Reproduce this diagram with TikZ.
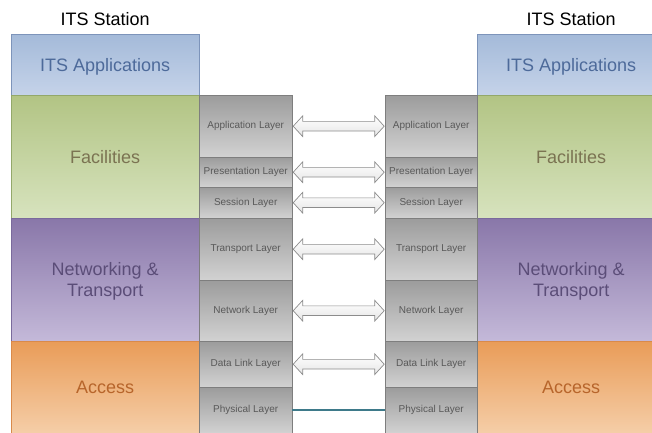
\documentclass[tikz,border=0pt]{standalone}
\usepackage{fontspec}
\setmainfont{Liberation Sans}
\usetikzlibrary{positioning,shapes.arrows}
\definecolor{appsTop}{HTML}{A4BAD9}\definecolor{appsBot}{HTML}{C5D3E9}
\definecolor{appsLine}{HTML}{7D94BA}\definecolor{appsText}{HTML}{4D6A9A}
\definecolor{facTop}{HTML}{B2C484}\definecolor{facBot}{HTML}{D7E3BE}
\definecolor{facLine}{HTML}{93A86A}\definecolor{facText}{HTML}{7B7352}
\definecolor{ntTop}{HTML}{8977A9}\definecolor{ntBot}{HTML}{C4B9D9}
\definecolor{ntLine}{HTML}{7A6A9C}\definecolor{ntText}{HTML}{5B4D78}
\definecolor{accTop}{HTML}{E99C58}\definecolor{accBot}{HTML}{F5CEA8}
\definecolor{accLine}{HTML}{D98A4A}\definecolor{accText}{HTML}{B7652B}
\definecolor{osiTop}{HTML}{9C9C9C}\definecolor{osiBot}{HTML}{D2D2D2}
\definecolor{osiLine}{HTML}{7E7E7E}\definecolor{osiText}{HTML}{595959}
\definecolor{phyLine}{HTML}{3E7A8A}
\tikzset{
  stack/.style={anchor=north west, minimum width=188, inner sep=0, align=center,
    text depth=0pt, font=\fontsize{18}{21}\selectfont},
  osi/.style={anchor=north west, minimum width=93, inner sep=0, draw=osiLine,
    top color=osiTop, bottom color=osiBot, text=osiText, font=\fontsize{10}{12}\selectfont},
  dblarrow/.style={double arrow, draw=gray!90, line width=0.7pt, top color=white, bottom color=gray!20,
    minimum height=91, minimum width=20, inner sep=0, inner ysep=4.5,
    double arrow head extend=5.5, double arrow tip angle=95},
  title/.style={inner sep=0, font=\fontsize{18}{21}\selectfont}
}
\begin{document}
\begin{tikzpicture}[x=1pt,y=-1pt]
\useasboundingbox (0,0) rectangle (652,432);
\clip (0,0) rectangle (652,432);
% the two ITS stations
\foreach \s/\x in {l/11,r/477} {
  \node[stack, minimum height=61, top color=appsTop, bottom color=appsBot, draw=appsLine, text=appsText]
    (apps-\s) at (\x,34) {ITS Applications};
  \node[stack, minimum height=123, top color=facTop, bottom color=facBot, draw=facLine, text=facText]
    (fac-\s) at (\x,95) {Facilities};
  \node[stack, minimum height=123, top color=ntTop, bottom color=ntBot, draw=ntLine, text=ntText]
    (nt-\s) at (\x,218) {Networking \&\\Transport};
  \node[stack, minimum height=92, top color=accTop, bottom color=accBot, draw=accLine, text=accText]
    (acc-\s) at (\x,341) {Access};
  \node[title, above=8pt of apps-\s] (ttl-\s) {ITS Station};
}
% OSI layers
\foreach \n/\t/\y/\h in {app/Application Layer/95/62, pre/Presentation Layer/157/30,
    ses/Session Layer/187/31, tra/Transport Layer/218/62, net/Network Layer/280/61,
    dat/Data Link Layer/341/46, phy/Physical Layer/387/46} {
  \node[osi, minimum height=\h] (\n-l) at (199,\y) {\t};
  \node[osi, minimum height=\h, minimum width=92] (\n-r) at (385,\y) {\t};
}
\foreach \n in {app,pre,ses,tra,net,dat}
  \path (\n-l.east) -- (\n-r.west) node[midway, dblarrow] {};
\draw[phyLine, line width=1.8pt] (phy-l.east) -- (phy-r.west);
\end{tikzpicture}
\end{document}
